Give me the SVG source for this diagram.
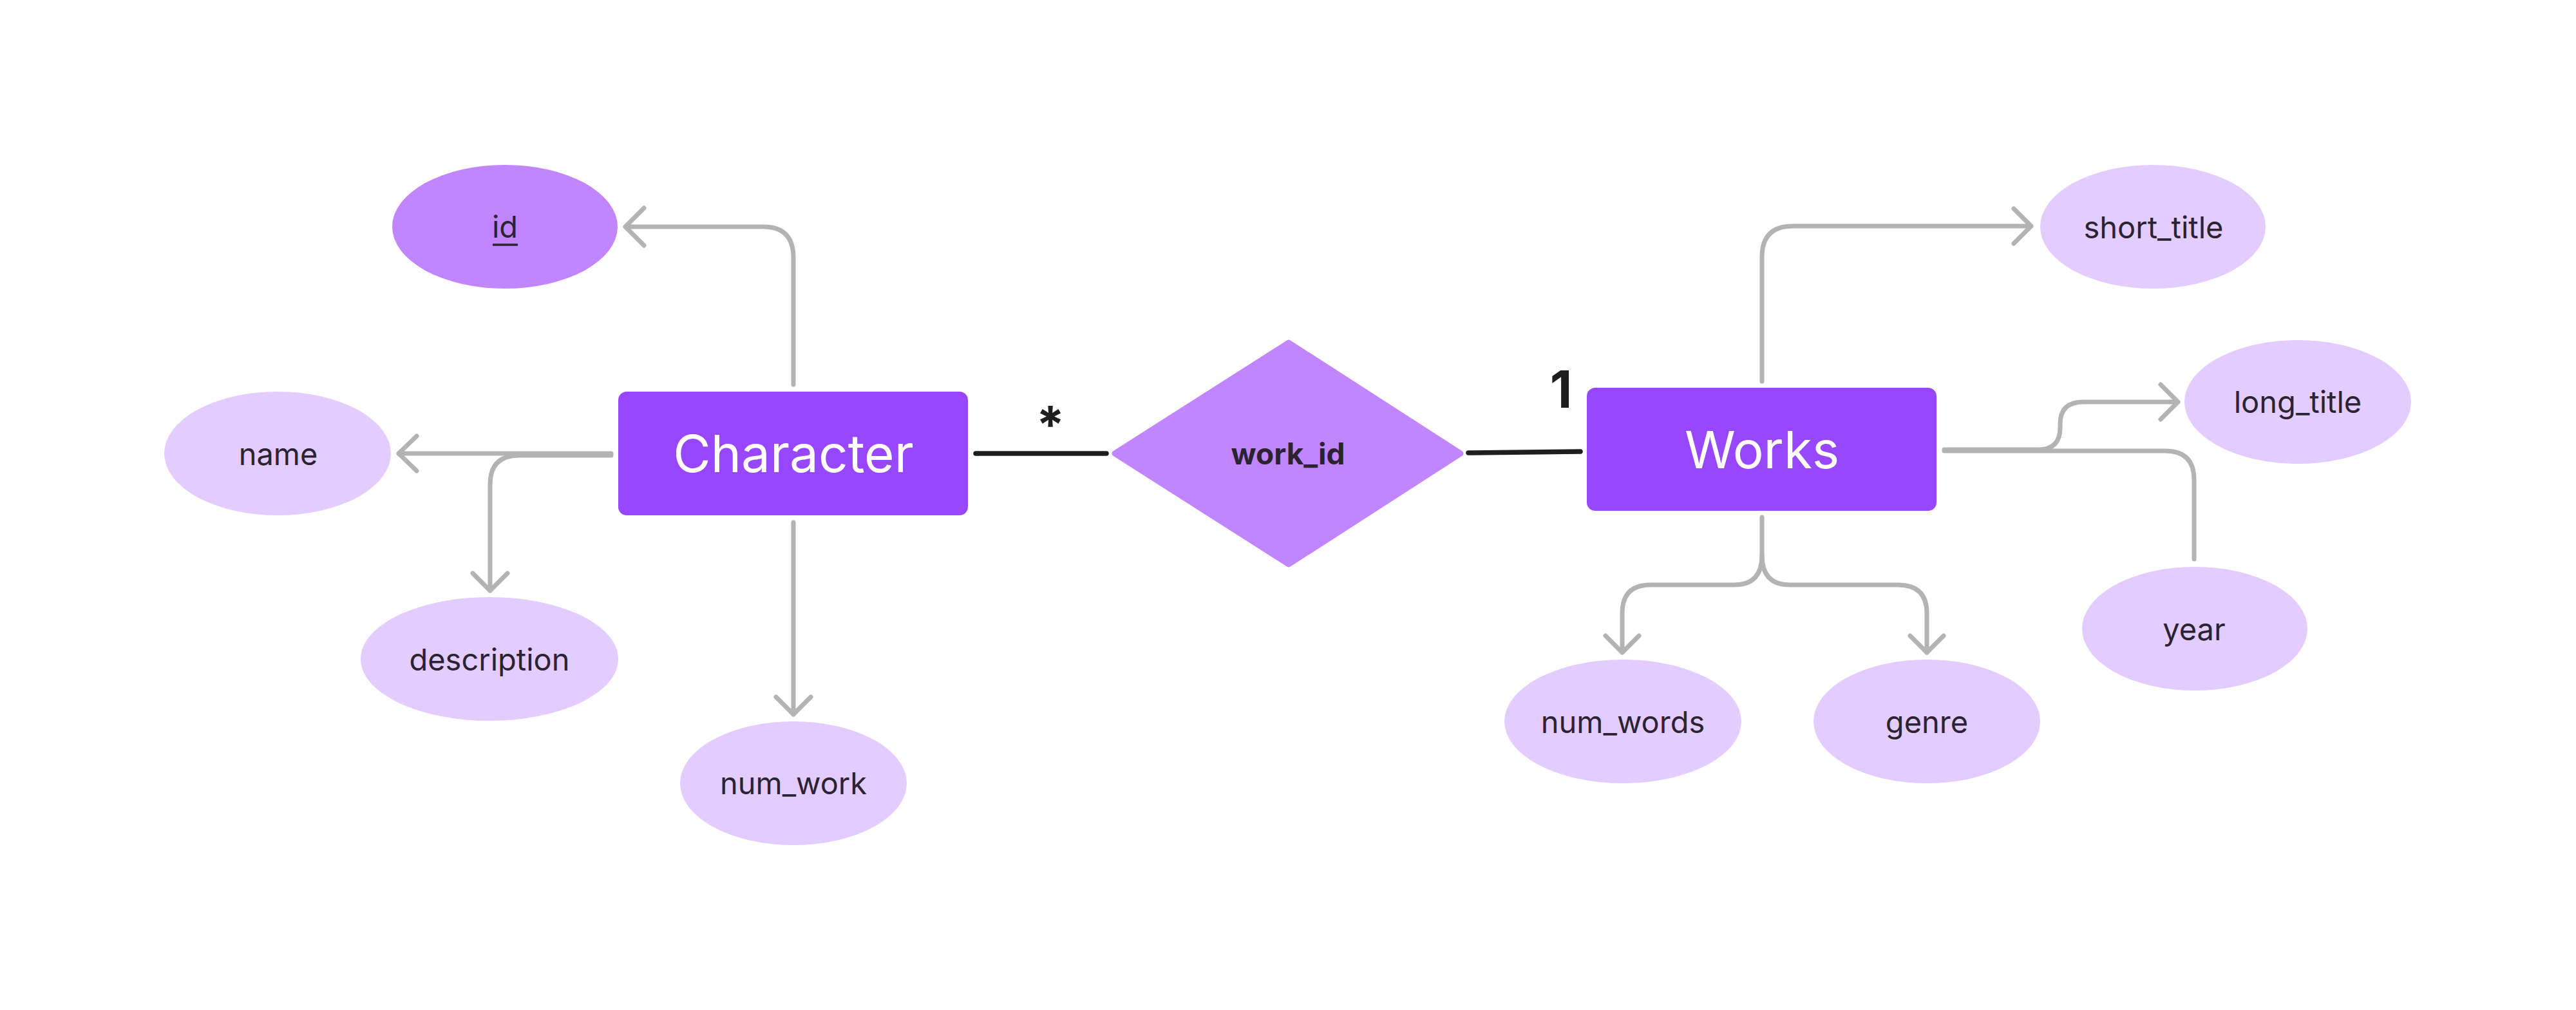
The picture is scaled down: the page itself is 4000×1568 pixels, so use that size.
<svg xmlns="http://www.w3.org/2000/svg" width="4000" height="1568" viewBox="0 0 4000 1568">
<style>
.ent{fill:#9747ff}
.ent-t{font-family:Inter,"Liberation Sans",sans-serif;font-size:80px;fill:#ffffff;text-anchor:middle}
.attr{fill:#e3ccff}
.key{fill:#c186ff}
.lbl{font-family:Inter,"Liberation Sans",sans-serif;font-size:47px;fill:#2b2331;text-anchor:middle}
.rel-t{font-family:Inter,"Liberation Sans",sans-serif;font-size:46px;font-weight:700;fill:#2b2331;text-anchor:middle}
.card{font-family:Inter,"Liberation Sans",sans-serif;font-size:80px;font-weight:700;fill:#1e1e1e;text-anchor:middle}
.con{fill:none;stroke:#b3b3b3;stroke-width:7;stroke-linecap:round;stroke-linejoin:round}
.rel{fill:none;stroke:#1e1e1e;stroke-width:7.5;stroke-linecap:round}
</style>
<rect width="4000" height="1568" fill="#ffffff"/>
<g id="connectors">
  <path class="con" d="M1232,597 V400 Q1232,352 1185,352 H971 M1000,323 L971,352 L1000,381"/>
  <path class="con" d="M949,704 H619 M647,677 L619,704 L647,731"/>
  <path class="con" d="M949,707 H806 Q761,707 761,752 V917 M734,890 L761,917 L788,890"/>
  <path class="con" d="M1232,811 V1109 M1205,1082 L1232,1109 L1259,1082"/>
  <path class="rel" d="M1515,704 H1718"/>
  <path class="rel" d="M2280,703 L2454,701"/>
  <path class="con" d="M2736,592 V399 Q2736,351 2784,351 H3154 M3127,324 L3154,351 L3127,378"/>
  <path class="con" d="M3019,698 H3165 Q3199,698 3199,664 V658 Q3199,624 3235,624 H3382 M3355,597 L3382,624 L3355,651"/>
  <path class="con" d="M3019,700 H3362 Q3407,700 3407,745 V868"/>
  <path class="con" d="M2736,803 V862 Q2736,908 2693,908 H2563 Q2519,908 2519,952 V1013 M2493,987 L2519,1013 L2545,987"/>
  <path class="con" d="M2736,862 Q2736,908 2779,908 H2947 Q2992,908 2992,952 V1013 M2966,987 L2992,1013 L3018,987"/>
  <text class="card" x="1631" y="688">*</text>
  <text class="card" x="2424" y="633">1</text>
</g>
<g id="character">
  <rect class="ent" x="960" y="608" width="543" height="192" rx="13"/>
  <text class="ent-t" x="1232" y="733">Character</text>
</g>
<g id="works">
  <rect class="ent" x="2464" y="602" width="543" height="191" rx="13"/>
  <text class="ent-t" x="2736" y="727">Works</text>
</g>
<g id="work_id">
  <polygon class="key" points="2001,532 2268,704 2001,876 1731,704" stroke="#c186ff" stroke-width="9" stroke-linejoin="round"/>
  <text class="rel-t" x="2000" y="721">work_id</text>
</g>
<g id="id">
  <ellipse class="key" cx="784" cy="352" rx="175" ry="96"/>
  <text class="lbl" x="784" y="369">id</text>
  <line x1="765" y1="380" x2="804" y2="380" stroke="#2b2331" stroke-width="3.5"/>
</g>
<g id="name">
  <ellipse class="attr" cx="431" cy="704" rx="176" ry="96"/>
  <text class="lbl" x="432" y="722">name</text>
</g>
<g id="description">
  <ellipse class="attr" cx="760" cy="1023" rx="200" ry="96"/>
  <text class="lbl" x="760" y="1041">description</text>
</g>
<g id="num_work">
  <ellipse class="attr" cx="1232" cy="1216" rx="176" ry="96"/>
  <text class="lbl" x="1232" y="1233">num_work</text>
</g>
<g id="short_title">
  <ellipse class="attr" cx="3343" cy="352" rx="175" ry="96"/>
  <text class="lbl" x="3344" y="370">short_title</text>
</g>
<g id="long_title">
  <ellipse class="attr" cx="3568" cy="624" rx="176" ry="96"/>
  <text class="lbl" x="3568" y="641">long_title</text>
</g>
<g id="year">
  <ellipse class="attr" cx="3408" cy="976" rx="175" ry="96"/>
  <text class="lbl" x="3407" y="994">year</text>
</g>
<g id="num_words">
  <ellipse class="attr" cx="2520" cy="1120" rx="184" ry="96"/>
  <text class="lbl" x="2520" y="1138">num_words</text>
</g>
<g id="genre">
  <ellipse class="attr" cx="2992" cy="1120" rx="176" ry="96"/>
  <text class="lbl" x="2992" y="1138">genre</text>
</g>
</svg>
